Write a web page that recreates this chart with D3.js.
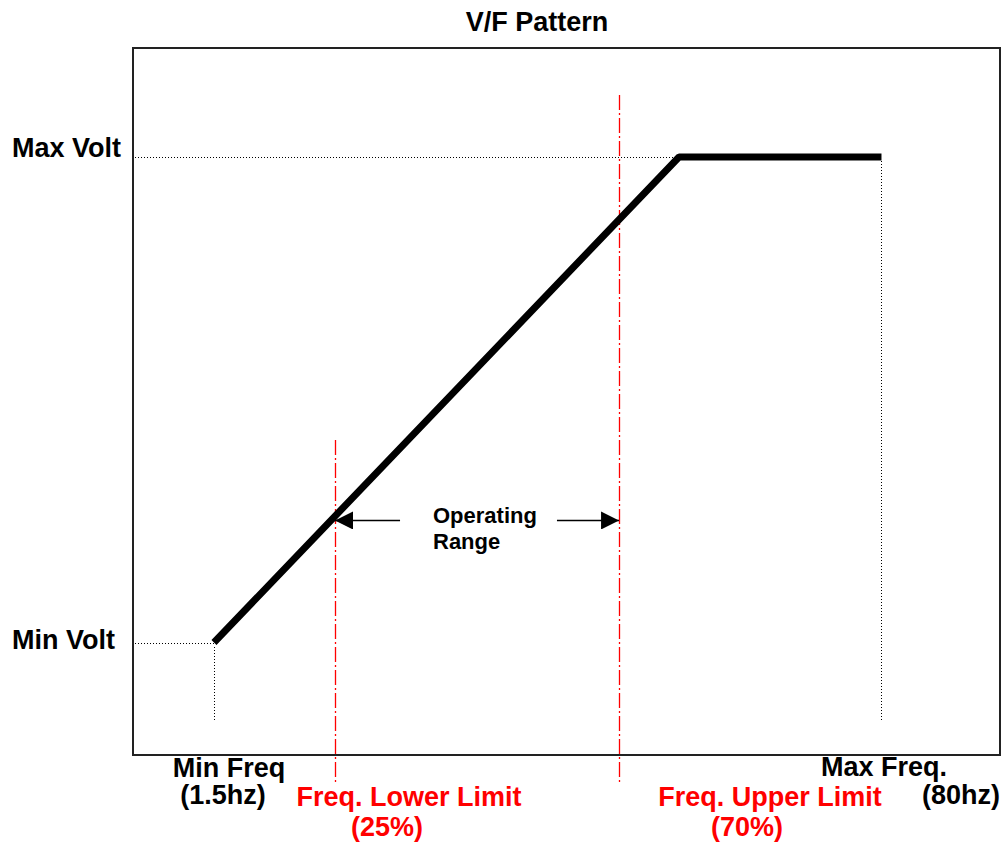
<!DOCTYPE html>
<html>
<head>
<meta charset="utf-8">
<script src="https://cdn.jsdelivr.net/npm/d3@7"></script>
<style>
  body { margin: 0; background: #fff; }
  svg text { font-family: "Liberation Sans", Arial, sans-serif; font-weight: bold; }
</style>
</head>
<body>
<div id="chart"></div>
<script>
// V/F curve, in plot units (0..100 across the frame)
const curveX = [9.34, 62.98, 86.33];
const curveY = [15.91, 84.58, 84.58];
const voltLevels = [15.91, 84.58];         // min volt, max volt
const voltLabels = ["Min Volt", "Max Volt"];
const freqStops = [9.34, 86.33];           // min freq, max freq
const dropBottom = 4.81;
const limitX = [23.30, 56.06];             // lower / upper limit
const limitTop = [44.55, 93.35];
const limitBottom = -3.96;
const arrowY = 33.17;
const arrowTails = [30.8, 48.9];

const width = 1005, height = 844;
const box = {left: 133, top: 48, right: 1000, bottom: 755};

const svg = d3.select("#chart").append("svg")
    .attr("width", width)
    .attr("height", height);

const x = d3.scaleLinear().domain([0, 100]).range([box.left, box.right]);
const y = d3.scaleLinear().domain([0, 100]).range([box.bottom, box.top]);
const px = v => Math.round(v) + 0.5;

svg.append("defs").append("marker")
    .attr("id", "arrow")
    .attr("viewBox", "0 0 18 18")
    .attr("refX", 18).attr("refY", 9)
    .attr("markerWidth", 18).attr("markerHeight", 18)
    .attr("markerUnits", "userSpaceOnUse")
    .attr("orient", "auto")
  .append("path")
    .attr("d", "M0,0L18,9L0,18Z")
    .attr("fill", "#000");

// frame
svg.append("rect")
    .attr("x", box.left).attr("y", box.top)
    .attr("width", box.right - box.left)
    .attr("height", box.bottom - box.top)
    .attr("fill", "none")
    .attr("stroke", "#222")
    .attr("stroke-width", 2);

svg.append("text")
    .attr("x", 537).attr("y", 31)
    .attr("text-anchor", "middle")
    .attr("font-size", 27)
    .text("V/F Pattern");

// dotted guides
const dotted = svg.append("g")
    .attr("stroke", "#000")
    .attr("stroke-width", 1)
    .attr("stroke-dasharray", "1,2")
    .attr("shape-rendering", "crispEdges");

dotted.selectAll(".h").data([0, 1]).enter().append("line")
    .attr("x1", x(0) + 2)
    .attr("x2", i => x(curveX[i]))
    .attr("y1", i => px(y(voltLevels[i])))
    .attr("y2", i => px(y(voltLevels[i])));

dotted.selectAll(".v").data(freqStops).enter().append("line")
    .attr("x1", d => px(x(d))).attr("x2", d => px(x(d)))
    .attr("y1", y(curveY[0]) + 4)
    .attr("y2", y(dropBottom));
dotted.selectAll("line").filter((d, i) => i === 3)
    .attr("y1", y(curveY[2]) + 4);

// red limit lines
svg.selectAll(".limit").data(limitX).enter().append("line")
    .attr("x1", d => px(x(d))).attr("x2", d => px(x(d)))
    .attr("y1", (d, i) => y(limitTop[i]))
    .attr("y2", y(limitBottom))
    .attr("stroke", "#ff0000")
    .attr("stroke-width", 1.3)
    .attr("stroke-dasharray", "15,3,2,3");

// V/F curve
const line = d3.line().x(d => x(d[0])).y(d => y(d[1]));
svg.append("path")
    .datum(d3.zip(curveX, curveY))
    .attr("d", line)
    .attr("fill", "none")
    .attr("stroke", "#000")
    .attr("stroke-width", 7)
    .attr("stroke-linejoin", "bevel");

// operating range arrows
svg.selectAll(".arrow").data(arrowTails).enter().append("line")
    .attr("x1", d => x(d))
    .attr("x2", (d, i) => x(limitX[i]))
    .attr("y1", y(arrowY)).attr("y2", y(arrowY))
    .attr("stroke", "#000")
    .attr("stroke-width", 1.5)
    .attr("marker-end", "url(#arrow)");

svg.append("text").attr("x", 433).attr("y", 523)
    .attr("font-size", 22).text("Operating");
svg.append("text").attr("x", 433).attr("y", 549)
    .attr("font-size", 22).text("Range");

// axis labels
const labels = [
  {t: voltLabels[1], x: 12, y: 157, a: "start", c: "#000"},
  {t: voltLabels[0], x: 12, y: 649, a: "start", c: "#000"},
  {t: "Min Freq", x: 229, y: 777, a: "middle", c: "#000"},
  {t: "(1.5hz)", x: 223, y: 804, a: "middle", c: "#000"},
  {t: "Max Freq.", x: 884, y: 776, a: "middle", c: "#000"},
  {t: "(80hz)", x: 961, y: 804, a: "middle", c: "#000"},
  {t: "Freq. Lower Limit", x: 409, y: 806, a: "middle", c: "#ff0000"},
  {t: "(25%)", x: 387, y: 836, a: "middle", c: "#ff0000"},
  {t: "Freq. Upper Limit", x: 770, y: 806, a: "middle", c: "#ff0000"},
  {t: "(70%)", x: 747, y: 836, a: "middle", c: "#ff0000"}
];
svg.selectAll(".lbl").data(labels).enter().append("text")
    .attr("x", d => d.x).attr("y", d => d.y)
    .attr("text-anchor", d => d.a)
    .attr("fill", d => d.c)
    .attr("font-size", 27)
    .text(d => d.t);
</script>
</body>
</html>
